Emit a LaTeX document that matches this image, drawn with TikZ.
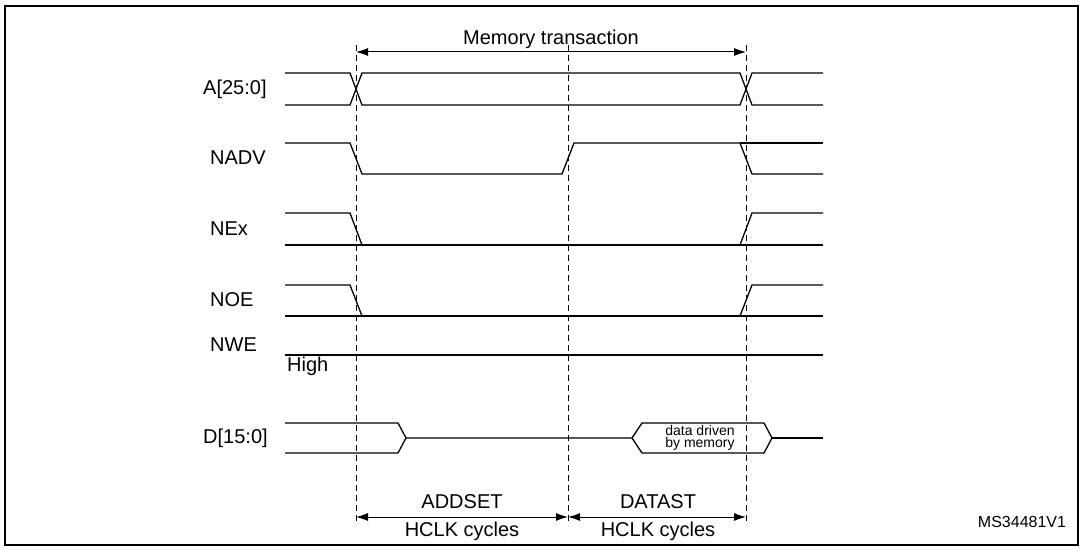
\documentclass[tikz,border=0pt]{standalone}
\usepackage{fontspec}
\setmainfont{Liberation Sans}
\usetikzlibrary{arrows.meta}
\tikzset{
  sig/.style={line width=1.3pt},
  guide/.style={dash pattern=on 6pt off 4pt,line width=0.8pt},
  dim/.style={line width=1pt,{Latex[length=12pt,width=8pt]}-{Latex[length=12pt,width=8pt]}},
  lbl/.style={font=\fontsize{20}{22}\selectfont,inner sep=0pt}
}
\begin{document}
\begin{tikzpicture}[x=1pt,y=-1pt]
\useasboundingbox (0,0) rectangle (1084,551);
\draw[line width=1.2pt] (5,6) rectangle (1078,545);
% Guide lines
\foreach \x in {356,568,746}
  \draw[guide] (\x,45) -- (\x,525);
% Memory transaction
\coordinate (m0) at (356,52);
\coordinate (m1) at (746,52);
\draw[dim] (m0) -- (m1) node[lbl,midway,above=3pt] {Memory transaction};
% Signal names
\node[lbl,anchor=west] (a) at (203,89) {A[25:0]};
\node[lbl,anchor=west] (nadv) at (210,158) {NADV};
\node[lbl,anchor=west] (nex) at (210,229) {NEx};
\node[lbl,anchor=west] (noe) at (210,300) {NOE};
\node[lbl,anchor=west] (nwe) at (210,345) {NWE};
\node[lbl,anchor=west] (high) at (287,366) {High};
\node[lbl,anchor=west] (d) at (203,438) {D[15:0]};
% A[25:0]
\draw[sig] (285,73) -- (350,73) -- (362,105) -- (740,105) -- (752,73) -- (823,73);
\draw[sig] (285,105) -- (350,105) -- (362,73) -- (740,73) -- (752,105) -- (823,105);
% NADV
\draw[sig] (285,143) -- (350,143) -- (362,174) -- (562,174) -- (574,143) -- (740,143) -- (752,174) -- (823,174);
\draw[sig] (740,143) -- (823,143);
% NEx
\draw[sig] (285,213) -- (350,213) -- (362,245);
\draw[sig] (285,245) -- (823,245);
\draw[sig] (740,245) -- (752,213) -- (823,213);
% NOE
\draw[sig] (285,285) -- (350,285) -- (362,316);
\draw[sig] (285,316) -- (823,316);
\draw[sig] (740,316) -- (752,285) -- (823,285);
% NWE
\draw[sig] (285,355) -- (823,355);
% D[15:0]
\draw[sig] (285,423) -- (398,423) -- (406,438) -- (398,453) -- (285,453);
\draw[sig] (406,438) -- (632,438) -- (642,423) -- (764,423) -- (772,438) -- (764,453) -- (642,453) -- (632,438);
\draw[sig] (772,438) -- (823,438);
\node[font=\fontsize{14}{12}\selectfont,align=center,inner sep=0pt] (drv) at (700,438) {data driven\\by memory};
% Cycle counts
\coordinate (c0) at (356,517);
\coordinate (c1) at (568,517);
\coordinate (c2) at (746,517);
\draw[dim] (c0) -- (c1);
\draw[dim] (c1) -- (c2);
\node[lbl] (addset) at (462,502) {ADDSET};
\node[lbl] (addhc) at (462,531) {HCLK cycles};
\node[lbl] (datast) at (658,502) {DATAST};
\node[lbl] (dathc) at (658,531) {HCLK cycles};
\node[font=\fontsize{16}{18}\selectfont,inner sep=0pt] (ref) at (1022,522) {MS34481V1};
\end{tikzpicture}
\end{document}
